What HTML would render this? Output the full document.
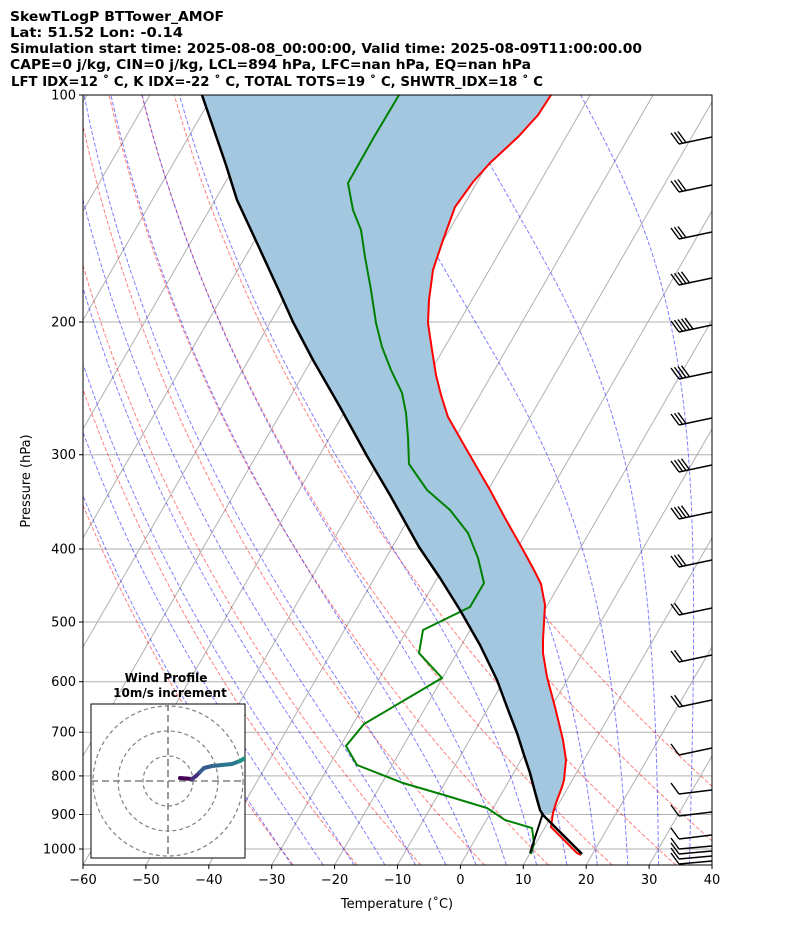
<!DOCTYPE html>
<html><head><meta charset="utf-8"><style>
html,body{margin:0;padding:0;background:#fff}
svg{display:block}
text{font-family:"DejaVu Sans","Liberation Sans",sans-serif}
</style></head><body>
<svg id="s" width="794" height="937" viewBox="0 0 794 937" xmlns="http://www.w3.org/2000/svg">
<defs><clipPath id="pc"><rect x="83" y="95" width="629" height="770"/></clipPath>
<clipPath id="hc"><rect x="91" y="704" width="154" height="154"/></clipPath></defs>
<rect x="0" y="0" width="794" height="937" fill="#fff"/>
<g id="bg" clip-path="url(#pc)"></g>
<g id="fg" clip-path="url(#pc)"></g>
<rect x="83" y="95" width="629" height="770" fill="none" stroke="#000" stroke-width="1"/>
<g id="ax" font-size="13" fill="#000"></g>
<g font-weight="bold" font-size="13.5" xml:space="preserve">
<text x="10" y="21" textLength="214" lengthAdjust="spacingAndGlyphs">SkewTLogP BTTower_AMOF</text>
<text x="10" y="37" textLength="173" lengthAdjust="spacingAndGlyphs">Lat: 51.52   Lon: -0.14</text>
<text x="10" y="53" textLength="632" lengthAdjust="spacingAndGlyphs">Simulation start time: 2025-08-08_00:00:00, Valid time: 2025-08-09T11:00:00.00</text>
<text x="10" y="69" textLength="521" lengthAdjust="spacingAndGlyphs">CAPE=0 j/kg, CIN=0 j/kg, LCL=894 hPa, LFC=nan hPa, EQ=nan hPa</text>
<text x="11" y="86" textLength="532" lengthAdjust="spacingAndGlyphs">LFT IDX=12 ˚ C, K IDX=-22 ˚ C, TOTAL TOTS=19 ˚ C, SHWTR_IDX=18 ˚ C</text>
</g>
<text x="397" y="908" font-size="13" text-anchor="middle">Temperature (˚C)</text>
<text transform="translate(30,481) rotate(-90)" font-size="13" text-anchor="middle">Pressure (hPa)</text>
<g id="hodo"></g>
</svg>
<script>
var NS="http://www.w3.org/2000/svg";
function el(t,a,p){var e=document.createElementNS(NS,t);for(var k in a)e.setAttribute(k,a[k]);p.appendChild(e);return e;}
var bg=document.getElementById('bg'),fg=document.getElementById('fg'),ax=document.getElementById('ax'),ho=document.getElementById('hodo');
function Y(p){return 95+754*Math.log10(p/100);}
function X(T,p){return 83+(T+60)*6.29+(865-Y(p))*0.577;}
function pl(pts,a,par){el('polyline',Object.assign({points:pts.map(function(q){return q[0].toFixed(1)+','+q[1].toFixed(1)}).join(' '),fill:'none'},a),par);}
for(var p=100;p<=1000;p+=100){el('line',{x1:83,x2:712,y1:Y(p),y2:Y(p),stroke:'#b0b0b0','stroke-width':1},bg);}
for(var T=-200;T<=60;T+=10){pl([[X(T,1050),Y(1050)],[X(T,100),Y(100)]],{stroke:'#b0b0b0','stroke-width':1},bg);}
for(var th=-30;th<=50;th+=10){var pts=[];for(var p=1050;p>=100;p-=10){var t=(th+273.15)*Math.pow(p/1000,0.2857)-273.15;pts.push([X(t,p),Y(p)]);}pl(pts,{stroke:'#ff0000','stroke-opacity':0.5,'stroke-dasharray':'4,2','stroke-width':1},bg);}
function es(tc){return 6.112*Math.exp(17.67*tc/(tc+243.5));}
for(var t0=-30;t0<=35;t0+=5){var t,pts=[];
 var dirs=[[1000,100,-2],[1000,1050,2]];
 for(var d=0;d<2;d++){t=t0+273.15;var arr=[];for(var p=dirs[d][0];(dirs[d][2]<0?p>=dirs[d][1]:p<=dirs[d][1]);p+=dirs[d][2]){
  var tc=t-273.15,e=es(tc),rs=0.622*e/(p-e);var dTdp=(287*t+2.5e6*rs)/(1004+2.5e6*2.5e6*rs*0.622/(287*t*t))/p;
  arr.push([X(tc,p),Y(p)]);t+=dTdp*dirs[d][2];}
  if(d==0)pts=arr;else pts=arr.reverse().concat(pts);}
 pl(pts,{stroke:'#0000ff','stroke-opacity':0.5,'stroke-dasharray':'4,2','stroke-width':1},bg);}
var Tp=[[551,95],[538,115],[518,137],[490,163],[473,182],[455,207],[443,240],[433,270],[429,300],[428,323],[432,350],[436,375],[441,395],[448,417],[464,445],[490,490],[505,518],[522,548],[534,570],[541,584],[545,605],[543,640],[543,653],[547,677],[555,707],[563,740],[566,760],[564,780],[562,787],[556,803],[553,813],[551,827],[577,853],[581,855]];
var Pp=[[202,95],[214,130],[226,165],[237,200],[257,243],[280,293],[293,322],[313,360],[340,407],[367,456],[390,495],[419,547],[440,578],[460,610],[480,645],[497,680],[507,707],[517,733],[524,755],[530,773],[535,792],[540,810],[543,815],[582,854]];
var fill=Tp.slice(0,31).concat([[543,815]]).concat(Pp.slice(0,22).reverse());
el('polygon',{points:fill.map(function(q){return q.join(',')}).join(' '),fill:'#a3c7df',stroke:'none'},fg);
var Td=[[399,95],[374,137],[348,183],[353,210],[361,230],[365,257],[371,290],[376,323],[382,347],[391,370],[402,393],[406,413],[408,437],[409,464],[427,490],[450,510],[468,533],[478,558],[484,583],[470,607],[423,630],[419,653],[442,678],[364,724],[346,746],[357,765],[403,783],[444,795],[487,808],[505,820],[532,828],[534,843],[531,854]];
pl(Td,{stroke:'#008000','stroke-width':2},fg);
pl(Tp,{stroke:'#ff0000','stroke-width':2},fg);
pl(Pp,{stroke:'#000','stroke-width':2.5,'stroke-linejoin':'round'},fg);
pl([[543,813],[530,853]],{stroke:'#000','stroke-width':2},fg);
var B=[[137,3],[185,3],[232,3],[278,4],[325,5],[372,4],[418,3],[465,4],[512,4],[560,3],[608,2],[655,2],[700,2],[748,1],[790,1],[812,1],[835,1],[846,1],[851,1],[856,1],[861,1]];
B.forEach(function(b){var y=b[0];var slope=(y<780)?7:(y<840?4:3);var x0=712,y0=y,x1=679,y1=y+slope;
 el('line',{x1:x0,y1:y0,x2:x1,y2:y1,stroke:'#000','stroke-width':1.5},fg);
 for(var i=0;i<b[1];i++){var bx=x1+i*3.5,by=y1-i*3.5*slope/33;el('line',{x1:bx,y1:by,x2:bx-8,y2:by-11,stroke:'#000','stroke-width':1.4},fg);}});
for(var T=-60;T<=40;T+=10){var x=83+(T+60)*6.29;el('line',{x1:x,x2:x,y1:865,y2:869,stroke:'#000'},ax);var t=el('text',{x:x,y:884,'text-anchor':'middle'},ax);t.textContent=(T<0?'\u2212'+(-T):T);}
for(var p=100;p<=1000;p+=100){var y=Y(p);el('line',{x1:79,x2:83,y1:y,y2:y,stroke:'#000'},ax);var t=el('text',{x:76,y:y+4.5,'text-anchor':'end'},ax);t.textContent=p;}
el('rect',{x:91,y:704,width:154,height:154,fill:'#fff',stroke:'#000','stroke-width':1},ho);
var g=el('g',{'clip-path':'url(#hc)'},ho);
[25,50,75].forEach(function(r){el('circle',{cx:168,cy:781,r:r,fill:'none',stroke:'#808080','stroke-dasharray':'4,3','stroke-width':1.2},g);});
el('line',{x1:91,x2:245,y1:781,y2:781,stroke:'#808080','stroke-dasharray':'7,4','stroke-width':1.6},g);
el('line',{x1:168,x2:168,y1:704,y2:858,stroke:'#808080','stroke-dasharray':'7,4','stroke-width':1.6},g);
var H=[[180,778],[192,779],[196,776],[200,772],[204,768],[212,766],[222,765],[232,764],[240,761],[245,758]];
var C=['#440154','#46317e','#46317e','#365c8d','#365c8d','#31688e','#2a788e','#2a788e','#21918c','#fde725'];
for(var i=0;i<H.length-1;i++)el('line',{x1:H[i][0],y1:H[i][1],x2:H[i+1][0],y2:H[i+1][1],stroke:C[i],'stroke-width':4,'stroke-linecap':'round'},g);
var t1=el('text',{x:166,y:682,'text-anchor':'middle','font-size':12,'font-weight':'bold'},ho);t1.textContent='Wind Profile';
var t2=el('text',{x:170,y:697,'text-anchor':'middle','font-size':12,'font-weight':'bold'},ho);t2.textContent='10m/s increment';
</script>
</body></html>
